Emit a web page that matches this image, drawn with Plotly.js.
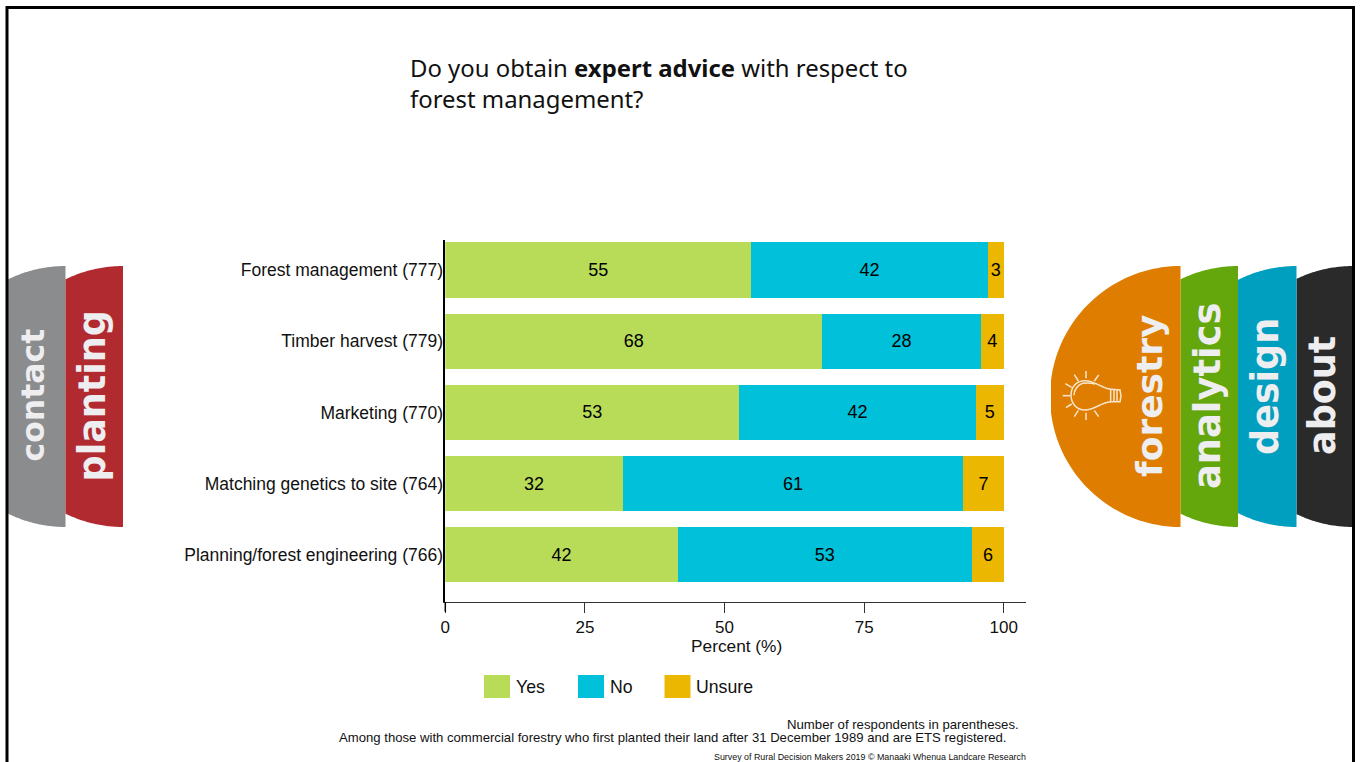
<!DOCTYPE html>
<html>
<head>
<meta charset="utf-8">
<script src="https://cdn.plot.ly/plotly-3.0.1.min.js"></script>
<style>html,body{margin:0;padding:0;background:#fff;overflow:hidden}</style>
</head>
<body>
<div id="chart" style="width:1361px;height:762px"></div>
<script>
// Survey responses, percent of respondents per topic; bar labels show whole percents
const topics = [
  "Forest management (777)",
  "Timber harvest (779)",
  "Marketing (770)",
  "Matching genetics to site (764)",
  "Planning/forest engineering (766)"
];
const yesValues = [54.8, 67.5, 52.6, 31.8, 41.6];
const noValues = [42.3, 28.4, 42.4, 60.9, 52.7];
const unsureValues = [2.9, 4.1, 5.0, 7.3, 5.7];
const seriesNames = ["Yes", "No", "Unsure"];
const seriesColors = ["#b8dc58", "#00c1d9", "#ecb700"];
const xTicks = [0, 25, 50, 75, 100];

const W = 1361, H = 762;
const CHART_FONT = "Liberation Sans, Arial, sans-serif";
// Page pixels to paper fractions; margins are zero so paper is the whole page
const px = x => x / W;
const py = y => 1 - y / H;
const pt = (x, y) => px(x) + "," + py(y);

function bar(values, i) {
  return {
    type: "bar", orientation: "h", name: seriesNames[i],
    y: topics, x: values, width: 0.78,
    marker: {color: seriesColors[i], line: {width: 0}},
    text: values.map(v => String(Math.round(v))), textposition: "inside", insidetextanchor: "middle",
    textangle: 0, constraintext: "none",
    textfont: {family: CHART_FONT, size: 18, color: "#000"},
    hoverinfo: "x+name", showlegend: false
  };
}
const traces = [yesValues, noValues, unsureValues].map(bar);

// Navigation tabs: a disc of fixed radius cut by two vertical edges
const TAB_R = 130.5, TAB_CY = 396.5;
function tabPath(left, right) {
  // arc runs from the bottom of the flat edge, through the left cut, to the top
  const dx = right - left;
  const sweep = dx >= TAB_R ? Math.PI / 2 : Math.asin(dx / TAB_R);
  let d = "M" + pt(right, TAB_CY + TAB_R);
  const steps = 40;
  for (let k = 0; k <= steps; k++) {
    const th = sweep * k / steps;
    d += "L" + pt(right - TAB_R * Math.sin(th), TAB_CY + TAB_R * Math.cos(th));
  }
  for (let k = steps; k >= 0; k--) {
    const th = sweep * k / steps;
    d += "L" + pt(right - TAB_R * Math.sin(th), TAB_CY - TAB_R * Math.cos(th));
  }
  return d + "Z";
}
const tabs = [
  {label: "contact", left: 7, right: 65.5, color: "#8a8c8e", tx: 32.5, ty: 395, size: 31.5},
  {label: "planting", left: 65.5, right: 123, color: "#b12a30", tx: 92, ty: 396.5, size: 36.5},
  {label: "about", left: 1296.5, right: 1353, color: "#2a2a2a", tx: 1322, ty: 396, size: 36.5},
  {label: "design", left: 1238, right: 1296.5, color: "#009fc0", tx: 1265, ty: 387, size: 36.5},
  {label: "analytics", left: 1180.5, right: 1238, color: "#63a70c", tx: 1207, ty: 396, size: 36.8},
  {label: "forestry", left: 1051, right: 1180.5, color: "#df7d00", tx: 1149, ty: 396, size: 36}
];
const tabShapes = tabs.map(t => ({
  type: "path", xref: "paper", yref: "paper", layer: "below",
  path: tabPath(t.left, t.right), fillcolor: t.color, line: {width: 0}
}));
const tabLabels = tabs.map(t => ({
  xref: "paper", yref: "paper", x: px(t.tx), y: py(t.ty), xanchor: "center", yanchor: "middle",
  text: "<b>" + t.label + "</b>", textangle: -90, showarrow: false,
  font: {family: "DejaVu Sans, sans-serif", size: t.size, color: "#eeedf0"}
}));

// Light bulb icon on the forestry tab, base pointing right
const bx = x => 1040 + x / 3, by = y => 250 + y / 3;
const bp = (x, y) => pt(bx(x), by(y));
const bulbPaths = [
  "M" + bp(212, 418) + "C" + bp(180, 412) + " " + bp(165, 392) + " " + bp(135, 392) +
    "C" + bp(108, 392) + " " + bp(93, 412) + " " + bp(93, 436) +
    "C" + bp(93, 460) + " " + bp(110, 480) + " " + bp(135, 480) +
    "C" + bp(165, 480) + " " + bp(180, 458) + " " + bp(212, 455),
  "M" + bp(165, 402) + "C" + bp(150, 398) + " " + bp(140, 398) + " " + bp(128, 400) +
    "C" + bp(112, 405) + " " + bp(102, 420) + " " + bp(102, 436),
  "M" + bp(212, 418) + "L" + bp(240, 420) + "L" + bp(243, 437) + "L" + bp(240, 455) + "L" + bp(212, 455) + "Z",
  "M" + bp(222, 419) + "L" + bp(222, 455),
  "M" + bp(231, 420) + "L" + bp(231, 455),
  "M" + bp(68, 437) + "L" + bp(90, 437),
  "M" + bp(76, 401) + "L" + bp(95, 412),
  "M" + bp(103, 374) + "L" + bp(115, 393),
  "M" + bp(138, 363) + "L" + bp(138, 385),
  "M" + bp(176, 375) + "L" + bp(163, 393),
  "M" + bp(78, 473) + "L" + bp(95, 462),
  "M" + bp(103, 500) + "L" + bp(115, 481),
  "M" + bp(138, 510) + "L" + bp(138, 488),
  "M" + bp(176, 500) + "L" + bp(163, 482)
];
const bulbShapes = bulbPaths.map(d => ({
  type: "path", xref: "paper", yref: "paper", path: d, line: {color: "#f8e6cc", width: 1.5}
}));

// Open-bottomed page frame
const frame = {
  type: "path", xref: "paper", yref: "paper", layer: "above",
  path: "M" + pt(7, 775) + "L" + pt(7, 7.5) + "L" + pt(1353.5, 7.5) + "L" + pt(1353.5, 775),
  line: {color: "#000", width: 3}
};

// Vertical axis runs on past the horizontal one, down through the zero tick
const yAxisFoot = {
  type: "path", xref: "paper", yref: "paper",
  path: "M" + pt(445.3, 602) + "L" + pt(445.3, 611.7), line: {color: "#000", width: 1.5}
};

// Legend keys sit below the axis
const legendX = [484, 578, 664.5];
const legendShapes = seriesNames.map((n, i) => ({
  type: "rect", xref: "paper", yref: "paper",
  x0: px(legendX[i]), x1: px(legendX[i] + 26), y0: py(698), y1: py(675),
  fillcolor: seriesColors[i], line: {width: 0}
}));
const legendLabels = seriesNames.map((n, i) => ({
  xref: "paper", yref: "paper", x: px(legendX[i] + 30), y: py(687), xanchor: "left", yanchor: "middle",
  text: n, showarrow: false, font: {family: CHART_FONT, size: 17.7, color: "#111"}
}));

function note(text, right, y, size) {
  return {xref: "paper", yref: "paper", x: px(right), y: py(y), xanchor: "right", yanchor: "middle",
    text, showarrow: false, font: {family: CHART_FONT, size, color: "#111"}};
}
const notes = [
  note("Number of respondents in parentheses.", 1020.5, 724, 13.2),
  note("Among those with commercial forestry who first planted their land after 31 December 1989 and are ETS registered.", 1009, 737.5, 13.13),
  note("Survey of Rural Decision Makers 2019 © Manaaki Whenua Landcare Research", 1028, 757, 8.9)
];
const xAxisTitle = {
  xref: "paper", yref: "paper", x: px(737), y: py(645.5), xanchor: "center", yanchor: "middle", borderpad: 0,
  text: "Percent (%)", showarrow: false, font: {family: CHART_FONT, size: 17.3, color: "#111"}
};

const PER_UNIT = 5.585, X0 = 445.3;
const layout = {
  width: W, height: H, autosize: false,
  margin: {l: 0, r: 0, t: 0, b: 0, pad: 0},
  paper_bgcolor: "#fff", plot_bgcolor: "rgba(0,0,0,0)",
  barmode: "stack", showlegend: false,
  title: {
    text: "Do you obtain <b>expert advice</b> with respect to<br>forest management?",
    x: px(410), xanchor: "left", xref: "paper", y: py(76.5), yanchor: "middle", yref: "paper",
    font: {family: "Noto Sans, Open Sans, sans-serif", size: 23.9, color: "#111"}
  },
  xaxis: {
    domain: [px(X0), px(1026)], range: [0, (1026 - X0) / PER_UNIT],
    tickvals: xTicks, ticktext: xTicks.map(String),
    ticks: "outside", ticklen: 9.5, tickcolor: "#333", tickwidth: 1,
    showgrid: false, zeroline: false, showline: true, linecolor: "#333", linewidth: 1,
    tickfont: {family: CHART_FONT, size: 17, color: "#111"},
    automargin: false, anchor: "y", fixedrange: true
  },
  yaxis: {
    domain: [py(602.3), py(240)], type: "category", categoryorder: "array", categoryarray: topics,
    range: [4.669, -0.425],
    ticks: "", showgrid: false, zeroline: false, showline: true, linecolor: "#000", linewidth: 1.5,
    tickfont: {family: CHART_FONT, size: 17.5, color: "#111"}, ticklabelstandoff: -3, ticklabelshift: -1.5,
    automargin: false, anchor: "x", fixedrange: true
  },
  shapes: [...tabShapes, ...bulbShapes, ...legendShapes, yAxisFoot, frame],
  annotations: [...tabLabels, ...legendLabels, ...notes, xAxisTitle]
};

Plotly.newPlot("chart", traces, layout, {displayModeBar: false, responsive: false});
</script>
</body>
</html>
